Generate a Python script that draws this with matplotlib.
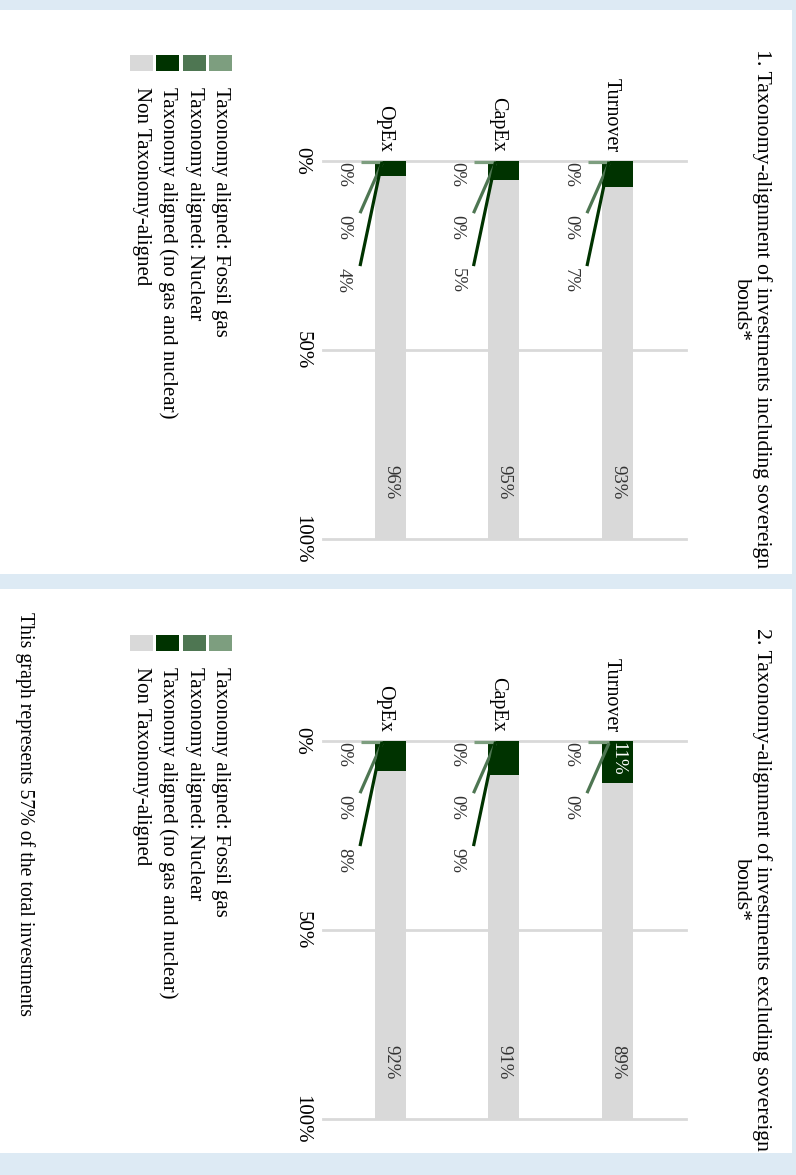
import matplotlib.pyplot as plt
from matplotlib.patches import Rectangle

plt.rcParams['font.family'] = ['Liberation Serif', 'DejaVu Serif']

# data
categories = ["Turnover", "CapEx", "OpEx"]
positions = [2, 1, 0]
series_names = ["Taxonomy aligned: Fossil gas", "Taxonomy aligned: Nuclear",
                "Taxonomy aligned (no gas and nuclear)", "Non Taxonomy-aligned"]
series_colors = ["#7d9e7f", "#4e7652", "#003300", "#d9d9d9"]

incl_fossil = [0, 0, 0]
incl_nuclear = [0, 0, 0]
incl_aligned = [7, 5, 4]
incl_non = [93, 95, 96]

excl_fossil = [0, 0, 0]
excl_nuclear = [0, 0, 0]
excl_aligned = [11, 9, 8]
excl_non = [89, 91, 92]

titles = ["1. Taxonomy-alignment of investments including sovereign\nbonds*",
          "2. Taxonomy-alignment of investments excluding sovereign\nbonds*"]
footnote = "This graph represents 57% of the total investments"

W, H = 796, 1175
PX_X = 1 / 113.5    # data units per pixel along the category axis
PX_Y = 100 / 378    # percent per pixel
BW = 31 * PX_X

fig = plt.figure(figsize=(W / 100, H / 100), dpi=100)
bg = fig.add_axes([0, 0, 1, 1])
bg.set_xlim(0, W)
bg.set_ylim(H, 0)
bg.axis('off')
bg.add_patch(Rectangle((0, 0), W, H, color='#ddeaf4', lw=0))
for top in (10, 589):
    bg.add_patch(Rectangle((0, top), 792, 564, color='white', lw=0))


def fmt(v):
    return f"{v}%"


def draw_panel(dy, title, fossil, nuclear, aligned, non):
    ax = fig.add_axes([323 / W, 1 - (539 + dy) / H, 363 / W, 378 / H])
    ax.set_xlim(-0.595, 2.604)
    ax.set_ylim(100, 0)
    ax.set_facecolor('none')
    for s in ax.spines.values():
        s.set_visible(False)
    ax.set_xticks([])
    ax.set_yticks([0, 50, 100])
    ax.set_yticklabels(['0%', '50%', '100%'], rotation=-90, ha='center', va='center', fontsize=15)
    ax.tick_params(axis='y', length=0, pad=15)
    for v in (0, 50, 100):
        ax.axhline(v, color='#d9d9d9', lw=2, zorder=0, clip_on=False)

    b1 = [f + n for f, n in zip(fossil, nuclear)]
    b2 = [b + a for b, a in zip(b1, aligned)]
    ax.bar(positions, fossil, width=BW, color=series_colors[0], zorder=2)
    ax.bar(positions, nuclear, bottom=fossil, width=BW, color=series_colors[1], zorder=2)
    ax.bar(positions, aligned, bottom=b1, width=BW, color=series_colors[2], zorder=2)
    ax.bar(positions, non, bottom=b2, width=BW, color=series_colors[3], zorder=2)

    for i, x in enumerate(positions):
        ax.annotate(categories[i], xy=(x, 0), xytext=(-6, 9), textcoords='offset pixels',
                    rotation=-90, ha='center', va='bottom', fontsize=14.5, annotation_clip=False)
        lx = x - 47 * PX_X
        x0 = x - 8.5 * PX_X
        x1 = x - 30.5 * PX_X
        # fossil gas
        ax.plot([x - 29.5 * PX_X, x0], [0.2, 0.2], color=series_colors[0], lw=2.3,
                zorder=3, clip_on=False, solid_capstyle='butt')
        ax.text(lx, 0.3, fmt(fossil[i]), rotation=-90, ha='center', va='top', fontsize=13.5, color='#333333')
        # nuclear
        ax.plot([x0, x1], [0.6, 13.8], color=series_colors[1], lw=2.3, zorder=3, solid_capstyle='butt')
        ax.text(lx, 14.3, fmt(nuclear[i]), rotation=-90, ha='center', va='top', fontsize=13.5, color='#333333')
        # aligned
        if aligned[i] < 10:
            ax.plot([x0, x1], [0.2, 27.8], color=series_colors[2], lw=2.3, zorder=3, solid_capstyle='butt')
            ax.text(lx, 28.3, fmt(aligned[i]), rotation=-90, ha='center', va='top', fontsize=13.5, color='#333333')
        else:
            ax.text(x, b1[i] + 0.3, fmt(aligned[i]), rotation=-90, ha='center', va='top',
                    fontsize=13.5, color='white', zorder=4)
        ax.text(x, 85, fmt(non[i]), rotation=-90, ha='center', va='center', fontsize=13.5,
                color='#333333', zorder=4)

    # title and legend on the background canvas
    bg.text(752, 309 + dy, title, rotation=-90, ha='center', va='center',
            multialignment='center', fontsize=15.7, linespacing=1.1)
    for k, name in enumerate(series_names):
        cx = 220.5 - 26.4 * k
        bg.add_patch(Rectangle((cx - 11.5, 55 + dy), 23, 16, color=series_colors[k], lw=0))
        bg.text(cx, 87 + dy, name, rotation=-90, ha='center', va='top', fontsize=15)


draw_panel(0, titles[0], incl_fossil, incl_nuclear, incl_aligned, incl_non)
draw_panel(580, titles[1], excl_fossil, excl_nuclear, excl_aligned, excl_non)

bg.text(25, 612, footnote, rotation=-90, ha='center', va='top', fontsize=14.3)

fig.savefig('out.png', dpi=100)
